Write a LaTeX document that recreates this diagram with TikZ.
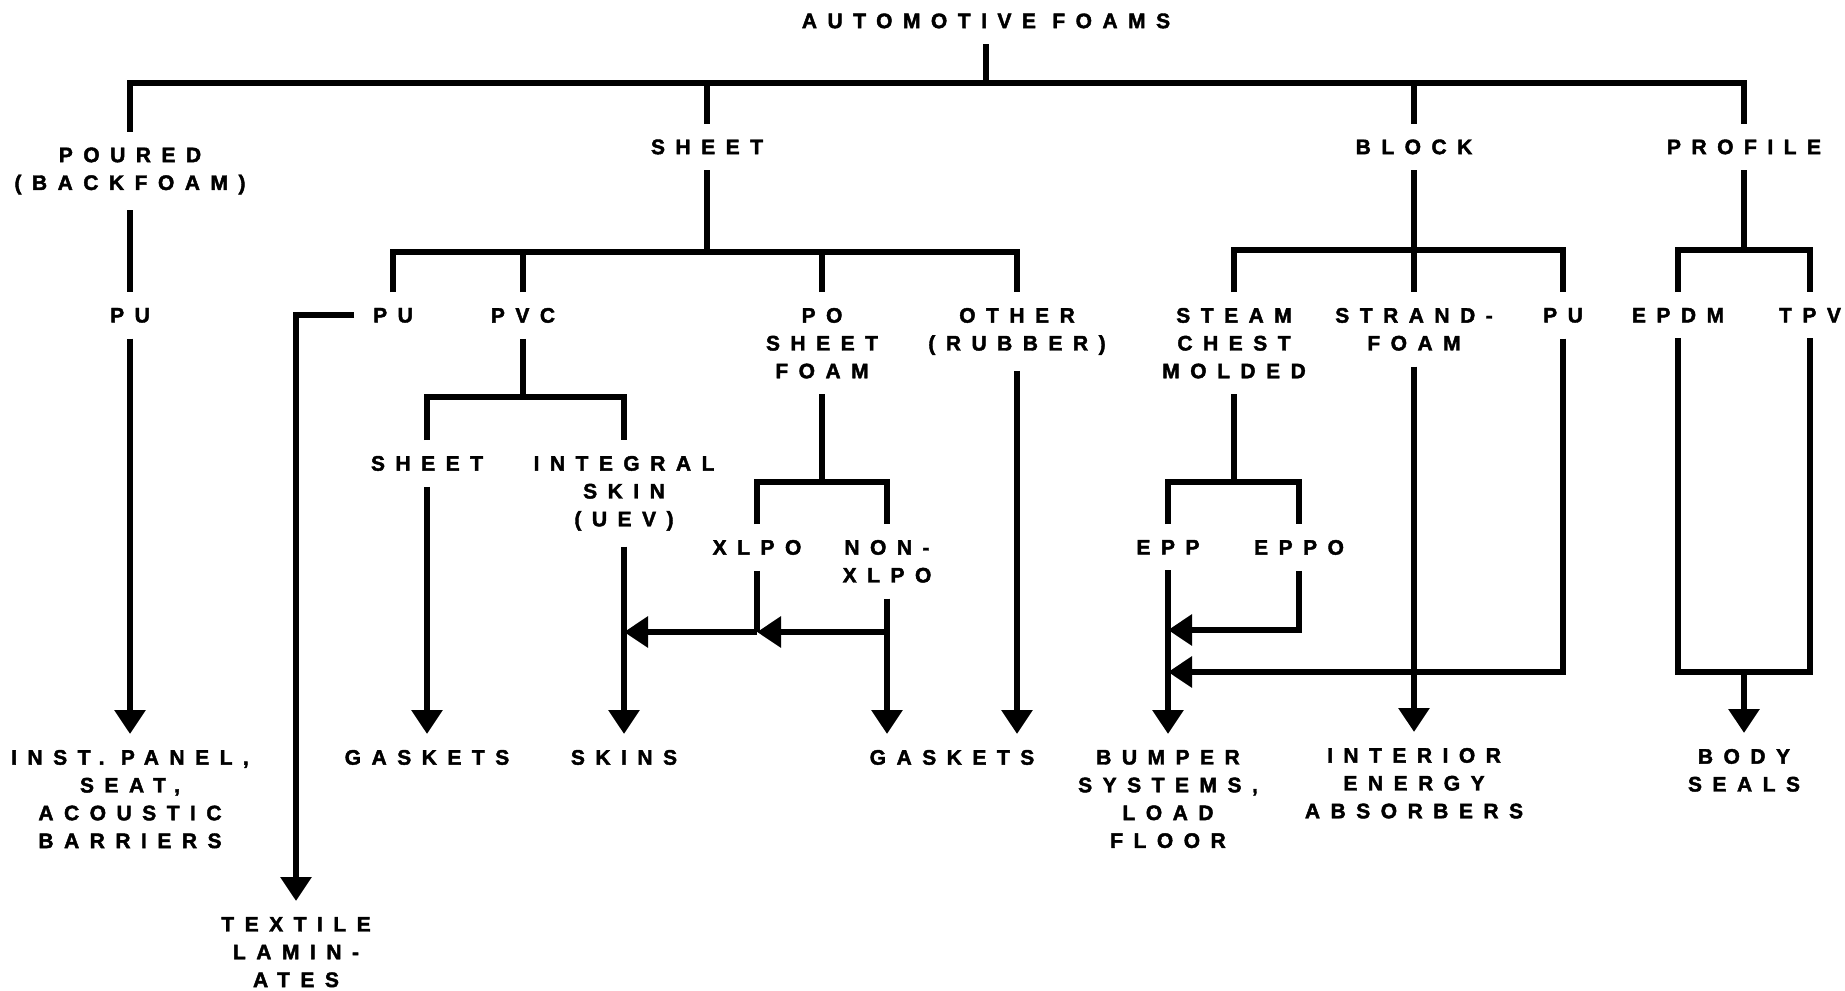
\documentclass[tikz,border=0pt]{standalone}
\usepackage{fontspec}
\newfontfamily\labfont{Liberation Sans}[UprightFont=* Bold, LetterSpace=50, FakeBold=2]
\usetikzlibrary{arrows.meta}
\begin{document}
\begin{tikzpicture}[x=0.5pt,y=-0.5pt,
  line width=3pt,
  lbl/.style={font=\labfont\fontsize{10.5pt}{13.9pt}\selectfont, align=center,
    inner xsep=0pt, inner ysep=6.5pt, anchor=north},
  arr/.style={-{Triangle[width=15pt,length=12pt]}}]
\useasboundingbox (0,0) rectangle (1845,990);
% helper coordinates (y levels)
\coordinate (top) at (0,83);
\coordinate (sb) at (0,252);
\coordinate (bb) at (0,250);
\coordinate (pvb) at (0,397);
\coordinate (pob) at (0,482);
\coordinate (h) at (0,632);
\coordinate (e1) at (0,630);
\coordinate (e2) at (0,672);
% nodes
\node[lbl] (root) at (986,-2.5) {AUTOMOTIVE FOAMS};
\node[lbl] (poured) at (130,131.5) {POURED\\(BACKFOAM)};
\node[lbl] (sheet) at (707,123.5) {SHEET};
\node[lbl] (block) at (1414,123.5) {BLOCK};
\node[lbl] (profile) at (1744,123.5) {PROFILE};
\node[lbl] (pu1) at (130,292) {PU};
\node[lbl] (pu2) at (393,292) {PU};
\node[lbl] (pvc) at (523,292) {PVC};
\node[lbl] (po) at (822,292) {PO\\SHEET\\FOAM};
\node[lbl] (other) at (1017,292) {OTHER\\(RUBBER)};
\node[lbl] (steam) at (1234,292) {STEAM\\CHEST\\MOLDED};
\node[lbl] (strand) at (1414,292) {STRAND-\\FOAM};
\node[lbl] (pu3) at (1563,292) {PU};
\node[lbl] (epdm) at (1678,292) {EPDM};
\node[lbl] (tpv) at (1810,292) {TPV};
\node[lbl] (sheetp) at (427,440) {SHEET};
\node[lbl] (integral) at (624,440) {INTEGRAL\\SKIN\\(UEV)};
\node[lbl] (xlpo) at (757,524) {XLPO};
\node[lbl] (nonx) at (887,524) {NON-\\XLPO};
\node[lbl] (epp) at (1168,524) {EPP};
\node[lbl] (eppo) at (1299,524) {EPPO};
\node[lbl] (inst) at (130,734) {INST. PANEL,\\SEAT,\\ACOUSTIC\\BARRIERS};
\node[lbl] (gask1) at (427,734) {GASKETS};
\node[lbl] (skins) at (624,734) {SKINS};
\node[lbl] (gask2) at (952,734) {GASKETS};
\node[lbl] (bumper) at (1168,734) {BUMPER\\SYSTEMS,\\LOAD\\FLOOR};
\node[lbl] (interior) at (1414,732) {INTERIOR\\ENERGY\\ABSORBERS};
\node[lbl] (body) at (1744,733) {BODY\\SEALS};
\node[lbl] (textile) at (296,901) {TEXTILE\\LAMIN-\\ATES};
% level 1
\draw (root.south) -- (root.south |- top);
\draw (poured.north) -- (poured.north |- top) -- (profile.north |- top) -- (profile.north);
\draw (sheet.north) -- (sheet.north |- top);
\draw (block.north) -- (block.north |- top);
% poured branch
\draw (poured.south) -- (pu1.north);
\draw[arr] (pu1.south) -- (inst.north);
% sheet branch
\draw (sheet.south) -- (sheet.south |- sb);
\draw (pu2.north) -- (pu2.north |- sb) -- (other.north |- sb) -- (other.north);
\draw (pvc.north) -- (pvc.north |- sb);
\draw (po.north) -- (po.north |- sb);
\coordinate (tx) at ([xshift=-8pt]pu2.west);
\draw[arr] (tx) -| (textile.north);
\draw (pvc.south) -- (pvc.south |- pvb);
\draw (sheetp.north) -- (sheetp.north |- pvb) -- (integral.north |- pvb) -- (integral.north);
\draw[arr] (sheetp.south) -- (gask1.north);
\draw[arr] (integral.south) -- (skins.north);
\draw (po.south) -- (po.south |- pob);
\draw (xlpo.north) -- (xlpo.north |- pob) -- (nonx.north |- pob) -- (nonx.north);
\draw (xlpo.south) -- (xlpo.south |- h);
\draw[arr] (nonx.south |- h) -- (xlpo.south |- h);
\draw[arr] (xlpo.south |- h) -- (integral.south |- h);
\draw[arr] (nonx.south) -- (nonx.south |- gask2.north);
\draw[arr] (other.south) -- (other.south |- gask2.north);
% block branch
\draw (block.south) -- (strand.north);
\draw (steam.north) -- (steam.north |- bb) -- (pu3.north |- bb) -- (pu3.north);
\draw[arr] (strand.south) -- (interior.north);
\draw (steam.south) -- (steam.south |- pob);
\draw (epp.north) -- (epp.north |- pob) -- (eppo.north |- pob) -- (eppo.north);
\draw[arr] (epp.south) -- (bumper.north);
\draw[arr] (eppo.south) -- (eppo.south |- e1) -- (epp.south |- e1);
\draw[arr] (pu3.south) -- (pu3.south |- e2) -- (epp.south |- e2);
% profile branch
\draw (profile.south) -- (profile.south |- bb);
\draw (epdm.north) -- (epdm.north |- bb) -- (tpv.north |- bb) -- (tpv.north);
\draw (epdm.south) -- (epdm.south |- e2) -- (tpv.south |- e2) -- (tpv.south);
\draw[arr] (body.north |- e2) -- (body.north);
\end{tikzpicture}
\end{document}
